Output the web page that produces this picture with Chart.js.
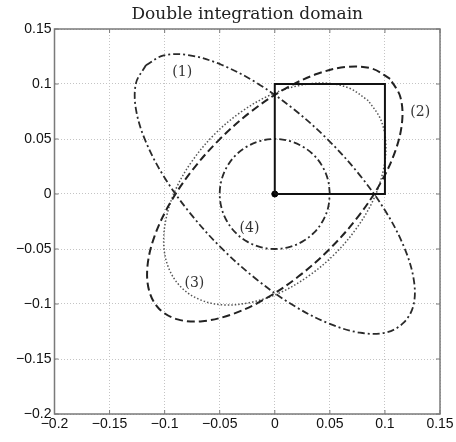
<!DOCTYPE html>
<html>
<head>
<meta charset="utf-8">
<script src="https://cdn.jsdelivr.net/npm/chart.js@4.4.1/dist/chart.umd.min.js"></script>
<style>
  html, body { margin: 0; padding: 0; background: #fff; }
  #wrap { width: 456px; height: 442px; }
</style>
</head>
<body>
<div id="wrap"><canvas id="domainChart" width="456" height="442"></canvas></div>
<script>
// ── axis ticks ──
const xTickValues = [-0.2, -0.15, -0.1, -0.05, 0, 0.05, 0.1, 0.15];
const xTickLabels = ["−0.2", "−0.15", "−0.1", "−0.05", "0", "0.05", "0.1", "0.15"];
const yTickValues = [-0.2, -0.15, -0.1, -0.05, 0, 0.05, 0.1, 0.15];
const yTickLabels = ["−0.2", "−0.15", "−0.1", "−0.05", "0", "0.05", "0.1", "0.15"];

// ── integration square + origin ──
const squareX = [0, 0.1, 0.1, 0, 0];
const squareY = [0, 0, 0.1, 0.1, 0];
const originX = [0];
const originY = [0];

// ── curve (1): dash-dot, tilted NW-SE ──
const curve1X = [-0.117, -0.1008, -0.0773, -0.0485, -0.0164, 0.0167, 0.0488, 0.0775, 0.101, 0.1175, 0.1261, 0.126,
  0.117, 0.1008, 0.0773, 0.0485, 0.0164, -0.0167, -0.0488, -0.0775, -0.101, -0.1175, -0.1261, -0.126, -0.117];
const curve1Y = [0.117, 0.126, 0.1261, 0.1175, 0.101, 0.0775, 0.0488, 0.0167, -0.0164, -0.0485, -0.0773, -0.1008,
  -0.117, -0.126, -0.1261, -0.1175, -0.101, -0.0775, -0.0488, -0.0167, 0.0164, 0.0485, 0.0773, 0.1008, 0.117];

// ── curve (2): dashed, tilted NE-SW ──
const curve2X = [0.1047, 0.0882, 0.0657, 0.0387, 0.0092, -0.0211, -0.0499, -0.0753, -0.0956, -0.1093, -0.1156, -0.114,
  -0.1047, -0.0882, -0.0657, -0.0387, -0.0092, 0.0211, 0.0499, 0.0753, 0.0956, 0.1093, 0.1156, 0.114, 0.1047];
const curve2Y = [0.1047, 0.114, 0.1156, 0.1093, 0.0956, 0.0753, 0.0499, 0.0211, -0.0092, -0.0387, -0.0657, -0.0882,
  -0.1047, -0.114, -0.1156, -0.1093, -0.0956, -0.0753, -0.0499, -0.0211, 0.0092, 0.0387, 0.0657, 0.0882, 0.1047];

// ── curve (3): dotted ──
const curve3X = [0.0849, 0.0679, 0.0463, 0.0215, -0.0048, -0.0306, -0.0545, -0.0746, -0.0897, -0.0985, -0.1008, -0.0961,
  -0.0849, -0.0679, -0.0463, -0.0215, 0.0048, 0.0306, 0.0545, 0.0746, 0.0897, 0.0985, 0.1008, 0.0961, 0.0849];
const curve3Y = [0.0849, 0.0961, 0.1008, 0.0985, 0.0897, 0.0746, 0.0545, 0.0306, 0.0048, -0.0215, -0.0463, -0.0679,
  -0.0849, -0.0961, -0.1008, -0.0985, -0.0897, -0.0746, -0.0545, -0.0306, -0.0048, 0.0215, 0.0463, 0.0679, 0.0849];

// ── curve (4): dash-dot circle around the origin ──
const curve4X = [0.05, 0.0483, 0.0433, 0.0354, 0.025, 0.0129, 0, -0.0129, -0.025, -0.0354, -0.0433, -0.0483,
  -0.05, -0.0483, -0.0433, -0.0354, -0.025, -0.0129, 0, 0.0129, 0.025, 0.0354, 0.0433, 0.0483, 0.05];
const curve4Y = [0, 0.0129, 0.025, 0.0354, 0.0433, 0.0483, 0.05, 0.0483, 0.0433, 0.0354, 0.025, 0.0129,
  0, -0.0129, -0.025, -0.0354, -0.0433, -0.0483, -0.05, -0.0483, -0.0433, -0.0354, -0.025, -0.0129, 0];

// ── curve labels ──
const curveLabels = ["(1)", "(2)", "(3)", "(4)"];
const labelX = [-0.084, 0.132, -0.073, -0.023];
const labelY = [0.111, 0.074, -0.081, -0.031];

function toPoints(xs, ys) {
  return xs.map((x, i) => ({ x: x, y: ys[i] }));
}

// frame, small inner ticks and curve labels on top of the plot area
const frameAndLabels = {
  id: "frameAndLabels",
  afterDatasetsDraw(chart) {
    const { ctx, chartArea: a, scales } = chart;
    ctx.save();
    ctx.strokeStyle = "#7a7a7a";
    ctx.lineWidth = 1.5;
    ctx.setLineDash([]);
    ctx.strokeRect(a.left, a.top, a.right - a.left, a.bottom - a.top);

    // matlab-style ticks pointing inward
    ctx.lineWidth = 1;
    ctx.beginPath();
    xTickValues.forEach((v) => {
      const px = scales.x.getPixelForValue(v);
      ctx.moveTo(px, a.bottom); ctx.lineTo(px, a.bottom - 4);
      ctx.moveTo(px, a.top); ctx.lineTo(px, a.top + 4);
    });
    yTickValues.forEach((v) => {
      const py = scales.y.getPixelForValue(v);
      ctx.moveTo(a.left, py); ctx.lineTo(a.left + 4, py);
      ctx.moveTo(a.right, py); ctx.lineTo(a.right - 4, py);
    });
    ctx.stroke();

    ctx.font = "14px 'DejaVu Serif', serif";
    ctx.fillStyle = "#333";
    ctx.textAlign = "center";
    ctx.textBaseline = "middle";
    curveLabels.forEach((txt, i) => {
      ctx.fillText(txt, scales.x.getPixelForValue(labelX[i]), scales.y.getPixelForValue(labelY[i]));
    });
    ctx.restore();
  },
};

const lineBase = { showLine: true, pointRadius: 0, pointHoverRadius: 0, fill: false, tension: 0.35 };

new Chart(document.getElementById("domainChart"), {
  type: "scatter",
  data: {
    datasets: [
      { ...lineBase, label: "square", data: toPoints(squareX, squareY), borderColor: "#111", borderWidth: 2, tension: 0 },
      { ...lineBase, label: "(1)", data: toPoints(curve1X, curve1Y), borderColor: "#2a2a2a", borderWidth: 1.8, borderDash: [7, 3, 2, 3] },
      { ...lineBase, label: "(2)", data: toPoints(curve2X, curve2Y), borderColor: "#222", borderWidth: 2, borderDash: [8, 4] },
      { ...lineBase, label: "(3)", data: toPoints(curve3X, curve3Y), borderColor: "#555", borderWidth: 1.5, borderDash: [1.5, 2] },
      { ...lineBase, label: "(4)", data: toPoints(curve4X, curve4Y), borderColor: "#2a2a2a", borderWidth: 1.8, borderDash: [7, 3, 2, 3] },
      { label: "origin", data: toPoints(originX, originY), showLine: false, pointRadius: 3, backgroundColor: "#000", borderColor: "#000" },
    ],
  },
  options: {
    responsive: false,
    animation: false,
    layout: { padding: { left: 0, right: 16, top: 0, bottom: 0 } },
    plugins: {
      legend: { display: false },
      tooltip: { enabled: false },
      title: {
        display: true,
        text: "Double integration domain",
        fullSize: false,
        color: "#222",
        font: { family: "'DejaVu Serif', serif", size: 17, weight: "normal", lineHeight: 1.2 },
        padding: { top: 4, bottom: 4.6 },
      },
    },
    scales: {
      x: {
        type: "linear",
        min: -0.2,
        max: 0.15,
        afterBuildTicks: (scale) => { scale.ticks = xTickValues.map((v) => ({ value: v })); },
        afterFit: (scale) => { scale.height = 28; },
        ticks: {
          padding: 2,
          color: "#111",
          font: { family: "'Liberation Sans', Arial, sans-serif", size: 14 },
          maxRotation: 0,
          autoSkip: false,
          callback: (v, i) => xTickLabels[i],
        },
        grid: { color: "#c4c4c4", lineWidth: 1, drawTicks: false },
        border: { display: false, dash: [1, 2] },
      },
      y: {
        type: "linear",
        min: -0.2,
        max: 0.15,
        afterBuildTicks: (scale) => { scale.ticks = yTickValues.map((v) => ({ value: v })); },
        afterFit: (scale) => { scale.width = 54.5; },
        ticks: {
          padding: 3,
          color: "#111",
          font: { family: "'Liberation Sans', Arial, sans-serif", size: 14 },
          autoSkip: false,
          callback: (v, i) => yTickLabels[i],
        },
        grid: { color: "#c4c4c4", lineWidth: 1, drawTicks: false },
        border: { display: false, dash: [1, 2] },
      },
    },
  },
  plugins: [frameAndLabels],
});
</script>
</body>
</html>
